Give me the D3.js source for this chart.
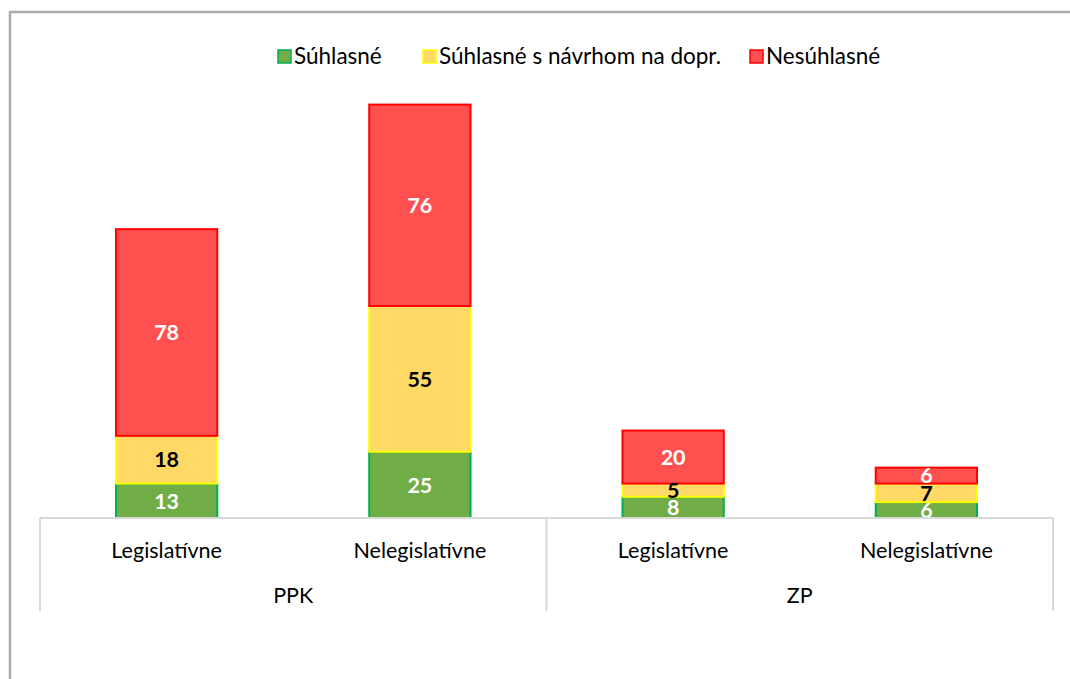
<!DOCTYPE html>
<html><head><meta charset="utf-8">
<script src="https://cdn.jsdelivr.net/npm/d3@7/dist/d3.min.js"></script>
<style>body{margin:0;background:#fff}svg{display:block}</style>
</head><body>
<script>
const groups = ["PPK","PPK","ZP","ZP"];
const categories = ["Legislatívne","Nelegislatívne","Legislatívne","Nelegislatívne"];
const groupNames = ["PPK","ZP"];
const seriesNames = ["Súhlasné","Súhlasné s návrhom na dopr.","Nesúhlasné"];
const suhlasne = [13,25,8,6];
const navrh = [18,55,5,7];
const nesuhlasne = [78,76,20,6];
const fills = ["#70ad47","#ffd966","#ff5050"];
const strokes = ["#00b050","#ffff00","#ff0000"];
const labelColors = ["#ffffff","#000000","#ffffff"];

const W=1070,H=679;
const svg=d3.select("body").append("svg").attr("width",W).attr("height",H);
const font="Lato, 'Open Sans', sans-serif";

// outer frame
svg.append("path").attr("d","M10,679 L10,12 L1070,12").attr("fill","none").attr("stroke","#ababab").attr("stroke-width",2.5);

const x0=40,x1=1053,yBase=518;
const x=d3.scaleBand().domain(d3.range(4)).range([x0,x1]).paddingInner(0.6).paddingOuter(0.3);
const y=d3.scaleLinear().domain([0,180]).range([yBase,yBase-477]);

const rows=categories.map((c,i)=>({i,s:suhlasne[i],n:navrh[i],ne:nesuhlasne[i]}));
const stack=d3.stack().keys(["s","n","ne"])(rows);

stack.forEach((layer,k)=>{
  const g=svg.append("g");
  g.selectAll("rect").data(layer).join("rect")
   .attr("x",d=>x(d.data.i)).attr("width",x.bandwidth())
   .attr("y",d=>y(d[1])).attr("height",d=>y(d[0])-y(d[1]))
   .attr("fill",fills[k]).attr("stroke",strokes[k]).attr("stroke-width",2);
});
stack.forEach((layer,k)=>{
  svg.append("g").selectAll("text").data(layer).join("text")
   .attr("x",d=>x(d.data.i)+x.bandwidth()/2)
   .attr("y",d=>(y(d[0])+y(d[1]))/2)
   .attr("dy","0.36em").attr("text-anchor","middle")
   .attr("font-family",font).attr("font-weight","bold").attr("font-size",21.5)
   .attr("fill",labelColors[k]).text(d=>d[1]-d[0]);
});

// category axis
const ax=svg.append("g").attr("stroke","#d9d9d9").attr("stroke-width",2);
ax.append("line").attr("x1",x0).attr("x2",x1).attr("y1",yBase).attr("y2",yBase);
[x0,(x0+x1)/2,x1].forEach(v=>ax.append("line").attr("x1",v).attr("x2",v).attr("y1",yBase).attr("y2",611));

svg.append("g").selectAll("text").data(categories).join("text")
 .attr("x",(d,i)=>x(i)+x.bandwidth()/2).attr("y",558).attr("text-anchor","middle")
 .attr("font-family",font).attr("font-size",21.5).attr("fill","#000").text(d=>d);
svg.append("g").selectAll("text").data(groupNames).join("text")
 .attr("x",(d,i)=>x0+(x1-x0)/4*(2*i+1)).attr("y",603).attr("text-anchor","middle")
 .attr("font-family",font).attr("font-size",21.5).attr("fill","#000").text(d=>d);

// legend
const legX=[278,423,750];
const lg=svg.append("g");
seriesNames.forEach((n,k)=>{
  lg.append("rect").attr("x",legX[k]).attr("y",50).attr("width",13).attr("height",13)
    .attr("fill",fills[k]).attr("stroke",strokes[k]).attr("stroke-width",1.5);
  lg.append("text").attr("x",legX[k]+16).attr("y",64).attr("font-family",font).attr("font-size",22.5)
    .attr("fill","#000").text(n);
});
</script>
</body></html>
